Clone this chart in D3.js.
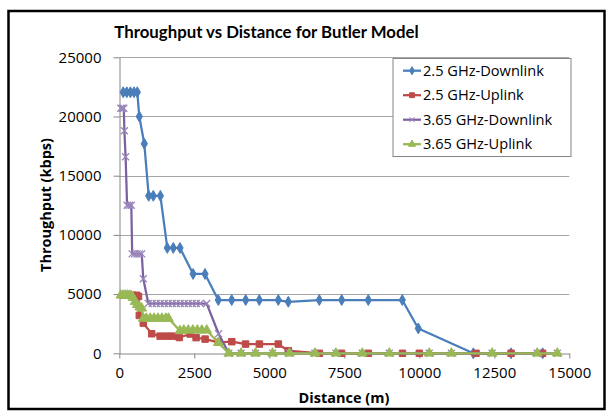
<!DOCTYPE html>
<html lang="en">
<head>
<meta charset="utf-8" />
<script src="https://cdnjs.cloudflare.com/ajax/libs/d3/7.8.5/d3.min.js"></script>
<style type="text/css">
    body { margin: 0; background: #fff; }
    text { font-family: Lato, "Open Sans", sans-serif; fill: #000; }
    .wide { font-family: "Open Sans", Lato, sans-serif; }
</style>
</head>
<body>
<div class="viz-box"></div>
<script type="text/javascript">
// values (distance in m, throughput in kbps)
var seriesNames = ['2.5 GHz-Downlink', '2.5 GHz-Uplink', '3.65 GHz-Downlink', '3.65 GHz-Uplink'];

var dl25X = [130, 250, 370, 490, 600, 667, 833, 980, 1133, 1370, 1600, 1800, 2023, 2460, 2857, 3300, 3747, 4213, 4667, 5300, 5633, 6667, 7413, 8300, 9433, 9967, 11800, 13057, 14113];
var dl25Y = [22050, 22050, 22050, 22050, 22050, 20000, 17700, 13300, 13300, 13300, 8900, 8900, 8900, 6700, 6700, 4500, 4500, 4500, 4500, 4500, 4350, 4500, 4500, 4500, 4500, 2100, 0, 0, 0];

var ul25X = [150, 300, 450, 580, 640, 667, 800, 1080, 1360, 1580, 1780, 2000, 2360, 2560, 2860, 3300, 3750, 4210, 4670, 5300, 5630, 6670, 7410, 8300, 9440, 10000, 11890, 13060, 14110];
var ul25Y = [4900, 4900, 4900, 4900, 4800, 3200, 2550, 1650, 1450, 1450, 1450, 1330, 1630, 1320, 1200, 930, 980, 780, 780, 780, 220, 0, 0, 0, 0, 0, 0, 0, 0];

var dl365X = [50, 100, 150, 170, 210, 260, 330, 400, 430, 510, 590, 670, 747, 800, 967, 1100, 1233, 1367, 1500, 1633, 1767, 1900, 2033, 2167, 2300, 2433, 2567, 2700, 2913, 3310, 3650, 4060, 4540, 5110, 5670, 6520, 7220, 8100, 9000, 10330, 11070, 12430, 13930, 14600];
var dl365Y = [20700, 20700, 20700, 18800, 16600, 12500, 12500, 12500, 8400, 8400, 8400, 8400, 8400, 6300, 4200, 4200, 4200, 4200, 4200, 4200, 4200, 4200, 4200, 4200, 4200, 4200, 4200, 4200, 4200, 1650, 0, 0, 0, 0, 0, 0, 0, 0, 0, 0, 0, 0, 0, 0];

var ul365X = [50, 130, 200, 270, 340, 400, 460, 523, 600, 680, 747, 800, 900, 1030, 1160, 1290, 1420, 1550, 1640, 2020, 2150, 2300, 2450, 2600, 2750, 2913, 3300, 3650, 4060, 4540, 5110, 5670, 6520, 7220, 8100, 9000, 10330, 11070, 12430, 13930, 14600];
var ul365Y = [4900, 4900, 4900, 4900, 4900, 4850, 4700, 4360, 4100, 3900, 3800, 2950, 2950, 2950, 2950, 2950, 2950, 2950, 2950, 1900, 1950, 1950, 1950, 1950, 1950, 1950, 900, 0, 0, 0, 0, 0, 0, 0, 0, 0, 0, 0, 0, 0, 0];

var xTicks = [0, 2500, 5000, 7500, 10000, 12500, 15000];
var yTicks = [0, 5000, 10000, 15000, 20000, 25000];

var colors = ['#4a7ebb', '#be4b48', '#7d60a0', '#98b954'];
var markers = ['diamond', 'square', 'x', 'triangle'];

function zip(xs, ys) {
    var out = [];
    for (var i = 0; i < xs.length; i++) out.push({ x: xs[i], y: ys[i] });
    return out;
}
var series = [zip(dl25X, dl25Y), zip(ul25X, ul25Y), zip(dl365X, dl365Y), zip(ul365X, ul365Y)];

let width = 613, height = 416;
let plot = { left: 119.3, right: 569.3, top: 57.3, bottom: 353.3 };

var svg = d3.select('div.viz-box')
    .append('svg')
    .attr('width', width)
    .attr('height', height);

// outer frame
svg.append('rect')
    .attr('x', 8.5).attr('y', 11)
    .attr('width', 596).attr('height', 398)
    .attr('fill', 'white')
    .attr('stroke', 'black')
    .attr('stroke-width', 2.5);

var x = d3.scaleLinear().domain([0, 15000]).range([plot.left, plot.right]);
var y = d3.scaleLinear().domain([0, 25000]).range([plot.bottom, plot.top]);

// gridlines
svg.append('g').selectAll('line')
    .data(yTicks.slice(1))
    .enter().append('line')
    .attr('x1', plot.left).attr('x2', plot.right)
    .attr('y1', function (d) { return Math.round(y(d)) + 0.5; })
    .attr('y2', function (d) { return Math.round(y(d)) + 0.5; })
    .attr('stroke', '#a6a6a6')
    .attr('stroke-width', 1);

var xAxis = svg.append('g')
    .attr('transform', 'translate(0,' + (Math.round(plot.bottom) + 0.5) + ')')
    .call(d3.axisBottom(x).tickValues(xTicks).tickFormat(d3.format('d')).tickSize(5).tickSizeOuter(0).tickPadding(9));

var yAxis = svg.append('g')
    .attr('transform', 'translate(' + (Math.round(plot.left) + 0.5) + ',0)')
    .call(d3.axisLeft(y).tickValues(yTicks).tickFormat(d3.format('d')).tickSize(6).tickSizeOuter(0).tickPadding(12));

[xAxis, yAxis].forEach(function (a) {
    a.select('.domain').attr('stroke', '#868686');
    a.selectAll('.tick line').attr('stroke', '#868686');
    a.selectAll('.tick text').attr('class', 'wide').style('font-size', '15px').attr('fill', '#000');
});

function markerPath(kind) {
    if (kind == 'diamond') return d3.symbol().type(d3.symbolDiamond).size(34)();
    if (kind == 'square') return d3.symbol().type(d3.symbolSquare).size(42)();
    if (kind == 'triangle') return d3.symbol().type(d3.symbolTriangle).size(40)();
    return 'M-3.5,-3.5L3.5,3.5M-3.5,3.5L3.5,-3.5';
}

var line = d3.line()
    .x(function (d) { return x(d.x); })
    .y(function (d) { return y(d.y); });

series.forEach(function (data, i) {
    var g = svg.append('g');
    g.append('path')
        .datum(data)
        .attr('d', line)
        .attr('fill', 'none')
        .attr('stroke', colors[i])
        .attr('stroke-width', 2.25)
        .attr('stroke-linejoin', 'round');

    g.selectAll('path.mk')
        .data(data)
        .enter().append('path')
        .attr('class', 'mk')
        .attr('transform', function (d) { return 'translate(' + x(d.x) + ',' + y(d.y) + ')'; })
        .attr('d', markerPath(markers[i]))
        .attr('fill', markers[i] == 'x' ? 'none' : colors[i])
        .attr('stroke', markers[i] == 'x' ? '#9a86bb' : colors[i])
        .attr('stroke-width', markers[i] == 'x' ? 1.3 : 1);
});

// legend
var legend = svg.append('g')
    .attr('class', 'legend')
    .attr('transform', 'translate(393,58.5)');

legend.append('rect')
    .attr('width', 178)
    .attr('height', 98)
    .attr('fill', 'white')
    .attr('stroke', '#868686')
    .attr('stroke-width', 1);

seriesNames.forEach(function (name, i) {
    var row = legend.append('g')
        .attr('transform', 'translate(0,' + (12.2 + i * 24.5) + ')');
    row.append('line')
        .attr('x1', 10).attr('x2', 28)
        .attr('stroke', colors[i])
        .attr('stroke-width', 2.25);
    row.append('path')
        .attr('transform', 'translate(19,0) scale(0.75)')
        .attr('d', markerPath(markers[i]))
        .attr('fill', markers[i] == 'x' ? 'none' : colors[i])
        .attr('stroke', markers[i] == 'x' ? '#9a86bb' : colors[i])
        .attr('stroke-width', 1.3);
    row.append('text')
        .attr('class', 'wide')
        .attr('x', 30)
        .attr('dy', '0.36em')
        .style('font-size', '14.6px')
        .text(name);
});

// titles
svg.append('text')
    .attr('x', 266.5).attr('y', 37.7)
    .style('text-anchor', 'middle')
    .style('font-size', '16.8px')
    .style('font-weight', 'bold')
    .text('Throughput vs Distance for Butler Model');

svg.append('text')
    .attr('class', 'wide')
    .attr('x', 344).attr('y', 403)
    .style('text-anchor', 'middle')
    .style('font-size', '14.5px')
    .style('font-weight', 'bold')
    .text('Distance (m)');

svg.append('text')
    .attr('class', 'wide')
    .attr('transform', 'translate(51,205) rotate(-90)')
    .style('text-anchor', 'middle')
    .style('font-size', '14.5px')
    .style('font-weight', 'bold')
    .text('Throughput (kbps)');
</script>
</body>
</html>
